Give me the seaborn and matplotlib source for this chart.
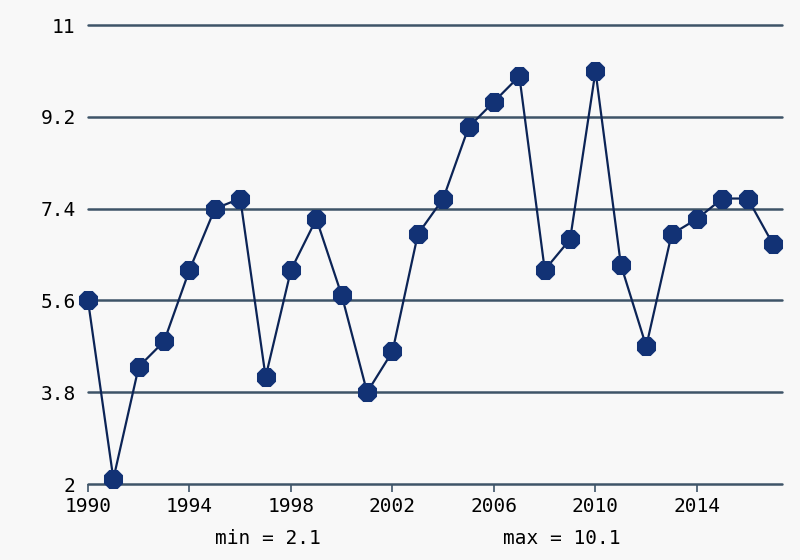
import matplotlib
matplotlib.use("Agg")
import matplotlib.pyplot as plt
import seaborn as sns
import pandas as pd

years = list(range(1990, 2018))
values = [5.6, 2.1, 4.3, 4.8, 6.2, 7.4, 7.6, 4.1, 6.2, 7.2, 5.7, 3.8, 4.6, 6.9,
          7.6, 9.0, 9.5, 10.0, 6.2, 6.8, 10.1, 6.3, 4.7, 6.9, 7.2, 7.6, 7.6, 6.7]
xticks = [1990, 1994, 1998, 2002, 2006, 2010, 2014]
yticks = [2, 3.8, 5.6, 7.4, 9.2, 11]
ytick_labels = ["2", "3.8", "5.6", "7.4", "9.2", "11"]

df = pd.DataFrame({"year": years, "value": values})

sns.set_theme(style="white")
plt.rcParams['font.family'] = ['DejaVu Sans Mono', 'DejaVu Sans']

bg = "#f8f8f8"
fig = plt.figure(figsize=(8, 5.6), dpi=100, facecolor=bg)
ax = fig.add_axes([0.11, 0.1357, 0.8675, 0.8193])
ax.set_facecolor(bg)

for yv in yticks:
    ax.axhline(yv, color="#3e5468", lw=1.8, zorder=1, clip_on=False)

sns.lineplot(data=df, x="year", y="value", ax=ax, color="#0c2456", lw=1.6,
             marker="8", markersize=14, markerfacecolor="#123275",
             markeredgecolor="#123275", zorder=3, clip_on=False)

ax.set_xlim(1990, 2017.35)
ax.set_ylim(2, 11)
ax.set_xticks(xticks)
ax.set_xticklabels([str(x) for x in xticks], fontsize=14)
ax.set_yticks(yticks)
ax.set_yticklabels(ytick_labels, fontsize=14)
ax.tick_params(axis="x", direction="out", length=6, width=1.2, color="#3e5468",
               pad=3, bottom=True, labelcolor="black")
ax.tick_params(axis="y", length=0, pad=9, labelcolor="black")
ax.set_xlabel("")
ax.set_ylabel("")
for s in ax.spines.values():
    s.set_visible(False)

fig.text(268 / 800, 1 - 538 / 560, "min = 2.1", fontsize=14, ha="center",
         va="center", color="black")
fig.text(562 / 800, 1 - 538 / 560, "max = 10.1", fontsize=14, ha="center",
         va="center", color="black")

fig.savefig("out.png", dpi=100, facecolor=bg)
